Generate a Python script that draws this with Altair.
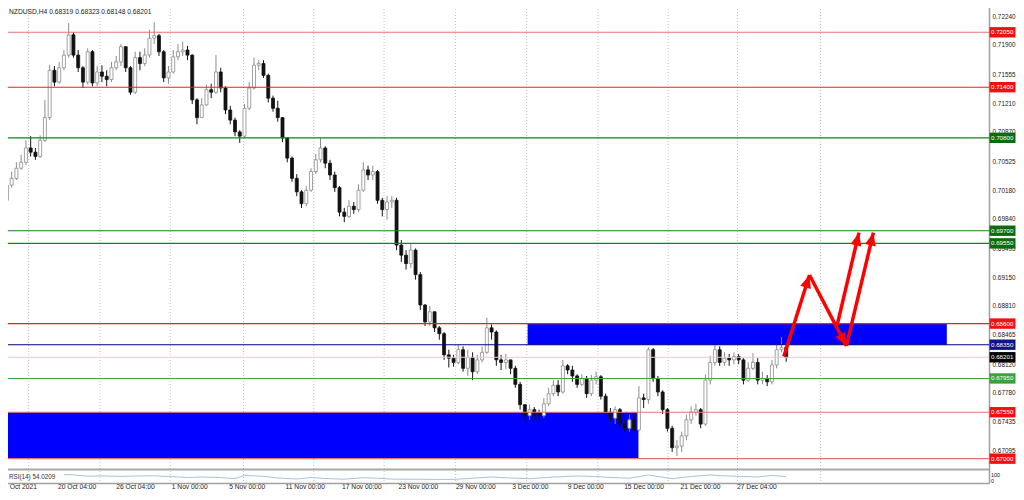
import json
import math
import altair as alt
import pandas as pd

# ------------------------------------------------------------------ data
symbol = "NZDUSD,H4"
first_open = 0.7006
close = [
    0.7024, 0.7032, 0.7044, 0.7051, 0.7068, 0.7063, 0.7058, 0.7077, 0.7104, 0.7160,
    0.7146, 0.7163, 0.7178, 0.7202, 0.7178, 0.7163, 0.7146, 0.7182, 0.7145, 0.7158,
    0.7153, 0.7149, 0.7163, 0.7170, 0.7188, 0.7163, 0.7134, 0.7175, 0.7168, 0.7178,
    0.7198, 0.7201, 0.7182, 0.7151, 0.7158, 0.7176, 0.7182, 0.7184, 0.7178, 0.7125,
    0.7104, 0.7119, 0.7137, 0.7134, 0.7158, 0.7139, 0.7113, 0.7101, 0.7087, 0.7082,
    0.7115, 0.7139, 0.7166, 0.7168, 0.7154, 0.7127, 0.7115, 0.7104, 0.7080, 0.7056,
    0.7032, 0.7016, 0.7002, 0.7018, 0.7040, 0.7054, 0.7068, 0.7050, 0.7036, 0.7021,
    0.6992, 0.6987, 0.6999, 0.6995, 0.7018, 0.7042, 0.7036, 0.7040, 0.7006, 0.6995,
    0.7004, 0.7006, 0.6953, 0.6941, 0.6931, 0.6947, 0.6918, 0.6882, 0.6862, 0.6874,
    0.6855, 0.6848, 0.6823, 0.6819, 0.6814, 0.6829, 0.6807, 0.6820, 0.6803, 0.6817,
    0.6826, 0.6855, 0.6850, 0.6817, 0.6814, 0.6817, 0.6807, 0.6788, 0.6764, 0.6751,
    0.6758, 0.6753, 0.6751, 0.6765, 0.6777, 0.6787, 0.6779, 0.6810, 0.6805, 0.6798,
    0.6788, 0.6795, 0.6777, 0.6793, 0.6797, 0.6774, 0.6755, 0.6748, 0.6758, 0.6741,
    0.6736, 0.6746, 0.6734, 0.6772, 0.6770, 0.6829, 0.6795, 0.6779, 0.6758, 0.6736,
    0.6713, 0.6715, 0.6727, 0.6746, 0.6755, 0.6758, 0.6741, 0.6793, 0.6814, 0.6829,
    0.6814, 0.6819, 0.6817, 0.6821, 0.6817, 0.6793, 0.6807, 0.6814, 0.6793, 0.6795,
    0.6791, 0.6811, 0.6829, 0.68319, 0.68201,
]
high = [
    0.7030, 0.7040, 0.7051, 0.7060, 0.7077, 0.7082, 0.7068, 0.7083, 0.7125, 0.7166,
    0.7165, 0.7170, 0.7184, 0.7216, 0.7205, 0.7184, 0.7165, 0.7186, 0.7184, 0.7165,
    0.7166, 0.7160, 0.7170, 0.7177, 0.7191, 0.7186, 0.7165, 0.7182, 0.7182, 0.7186,
    0.7208, 0.7217, 0.7203, 0.7184, 0.7165, 0.7184, 0.7191, 0.7194, 0.7189, 0.7179,
    0.7127, 0.7127, 0.7143, 0.7144, 0.7178, 0.7163, 0.7141, 0.7118, 0.7104, 0.7089,
    0.7120, 0.7146, 0.7175, 0.7172, 0.7172, 0.7156, 0.7130, 0.7124, 0.7104, 0.7080,
    0.7058, 0.7037, 0.7018, 0.7023, 0.7044, 0.7061, 0.7080, 0.7070, 0.7054, 0.7040,
    0.7023, 0.6997, 0.7006, 0.7004, 0.7025, 0.7051, 0.7047, 0.7047, 0.7042, 0.7009,
    0.7011, 0.7011, 0.7009, 0.6959, 0.6947, 0.6955, 0.6949, 0.6921, 0.6883, 0.6881,
    0.6874, 0.6857, 0.6850, 0.6829, 0.6823, 0.6835, 0.6833, 0.6829, 0.6826, 0.6823,
    0.6833, 0.6867, 0.6859, 0.6852, 0.6823, 0.6824, 0.6817, 0.6810, 0.6791, 0.6763,
    0.6764, 0.6761, 0.6758, 0.6772, 0.6784, 0.6793, 0.6793, 0.6817, 0.6812, 0.6810,
    0.6800, 0.6800, 0.6798, 0.6799, 0.6803, 0.6799, 0.6777, 0.6760, 0.6762, 0.6760,
    0.6746, 0.6752, 0.6755, 0.6786, 0.6777, 0.6832, 0.6831, 0.6798, 0.6781, 0.6760,
    0.6739, 0.6722, 0.6732, 0.6752, 0.6762, 0.6765, 0.6760, 0.6800, 0.6822, 0.6835,
    0.6833, 0.6826, 0.6824, 0.6826, 0.6824, 0.6819, 0.6814, 0.6825, 0.6819, 0.6803,
    0.6799, 0.6817, 0.6835, 0.6844, 0.68323,
]
low = [
    0.6981, 0.7021, 0.7030, 0.7042, 0.7048, 0.7058, 0.7054, 0.7056, 0.7075, 0.7101,
    0.7141, 0.7144, 0.7160, 0.7175, 0.7175, 0.7158, 0.7139, 0.7143, 0.7141, 0.7141,
    0.7146, 0.7141, 0.7146, 0.7160, 0.7165, 0.7158, 0.7131, 0.7132, 0.7160, 0.7165,
    0.7175, 0.7191, 0.7177, 0.7146, 0.7144, 0.7156, 0.7172, 0.7177, 0.7172, 0.7120,
    0.7096, 0.7111, 0.7118, 0.7127, 0.7132, 0.7134, 0.7108, 0.7096, 0.7082, 0.7074,
    0.7080, 0.7113, 0.7137, 0.7160, 0.7151, 0.7122, 0.7111, 0.7099, 0.7075, 0.7051,
    0.7028, 0.7011, 0.6997, 0.6999, 0.7016, 0.7037, 0.7051, 0.7044, 0.7030, 0.7016,
    0.6987, 0.6980, 0.6985, 0.6990, 0.6992, 0.7016, 0.7030, 0.7030, 0.7002, 0.6987,
    0.6983, 0.6997, 0.6947, 0.6933, 0.6924, 0.6926, 0.6912, 0.6876, 0.6857, 0.6857,
    0.6850, 0.6841, 0.6817, 0.6808, 0.6809, 0.6812, 0.6803, 0.6798, 0.6793, 0.6800,
    0.6814, 0.6824, 0.6841, 0.6810, 0.6805, 0.6806, 0.6800, 0.6784, 0.6758, 0.6745,
    0.6746, 0.6746, 0.6744, 0.6748, 0.6762, 0.6774, 0.6774, 0.6777, 0.6800, 0.6791,
    0.6784, 0.6786, 0.6772, 0.6774, 0.6788, 0.6770, 0.6750, 0.6744, 0.6741, 0.6736,
    0.6732, 0.6732, 0.6732, 0.6732, 0.6760, 0.6765, 0.6791, 0.6774, 0.6753, 0.6732,
    0.6708, 0.6703, 0.6708, 0.6722, 0.6741, 0.6751, 0.6736, 0.6739, 0.6788, 0.6810,
    0.6810, 0.6810, 0.6810, 0.6812, 0.6812, 0.6788, 0.6791, 0.6805, 0.6788, 0.6788,
    0.6786, 0.6788, 0.6807, 0.6826, 0.68148,
]

time_labels = ["14 Oct 2021", "20 Oct 04:00", "26 Oct 04:00", "1 Nov 00:00", "5 Nov 00:00",
               "11 Nov 00:00", "17 Nov 00:00", "23 Nov 00:00", "29 Nov 00:00", "3 Dec 00:00",
               "9 Dec 00:00", "15 Dec 00:00", "21 Dec 00:00", "27 Dec 04:00"]
time_label_bars = [-1.46, 10.63, 22.92, 34.58, 46.67, 58.54, 70.42, 82.29, 94.38, 106.25,
                   117.92, 129.79, 141.67, 153.54]
grid_bars = [4.58, 19.58, 34.38, 49.79, 64.58, 79.38, 94.38, 109.38, 124.38, 139.17, 153.75, 171.25]

price_ticks = [0.72240, 0.71900, 0.71555, 0.71210, 0.70870, 0.70525, 0.70180, 0.69840,
               0.69495, 0.69150, 0.68810, 0.68465, 0.68120, 0.67780, 0.67435, 0.67095]

level_prices = [0.72050, 0.71400, 0.70800, 0.69700, 0.69550, 0.68600, 0.68350, 0.68201,
                0.67950, 0.67550, 0.67000]
level_kinds = ["r", "R", "G", "G", "G", "R", "N", "B", "g", "r", "r"]

zone_start = [-2.1, 109.58]
zone_end = [132.9, 197.8]
zone_low = [0.67000, 0.68350]
zone_high = [0.67550, 0.68600]

arrow_from_bar = [163.5, 168.9, 174.73, 176.67]
arrow_from_price = [0.68210, 0.69176, 0.68583, 0.68335]
arrow_to_bar = [168.9, 176.67, 179.31, 182.35]
arrow_to_price = [0.69176, 0.68335, 0.69677, 0.69677]

rsi_bars = [12, 14, 17, 20, 24, 27, 31, 34, 38, 41, 45, 48, 50, 54, 57, 61, 64, 68, 71, 75,
            78, 81, 84, 88, 94, 98, 102, 106, 110, 115, 120, 124, 127, 131, 135, 140, 144,
            148, 151, 155, 158, 161, 164]
rsi_values = [74, 71, 58, 61, 56, 60, 62, 55, 45, 50, 44, 34, 66, 57, 40, 30, 44, 33, 28, 43,
              38, 29, 28, 27, 26, 38, 50, 40, 33, 50, 60, 55, 45, 38, 70, 33, 55, 70, 62, 55,
              50, 66, 54.0209]
rsi_levels = [100, 0]

# ------------------------------------------------------------------ style / layout
FONT = "Liberation Sans"
FS = 6.7
TXT = "#222222"
line_colors = {"R": "#ff1a1a", "r": "#e87272", "G": "#138613", "g": "#3aa83a",
               "N": "#000080", "B": "#e2c9c9"}
box_colors = {"R": "#f01010", "r": "#f01010", "G": "#0c6b0c", "g": "#3aa23a",
              "N": "#12128a", "B": "#000000"}
candle_fill = {"up": "#ffffff", "down": "#111111"}
candle_stroke = {"up": "#8c8c8c", "down": "#151515"}

BAR_PX, BAR0 = 4.8, 2.0          # pixel spacing of bars, x of bar 0
LEFT, RIGHT = -8.0, 989.0         # view edges in page pixels
PRICE_PX, ANCHOR_P, ANCHOR_Y = 8443.0, 0.7205, 32.3
H = 483                           # bottom of the view (page pixels)
RSI0_Y, RSI_PX = 482.0, 0.1       # RSI panel between 472 and 482
W = RIGHT - LEFT


def vx(page_x):
    return page_x - LEFT


x_domain = [(LEFT - BAR0) / BAR_PX, (RIGHT - BAR0) / BAR_PX]
price_domain = [ANCHOR_P - (H - ANCHOR_Y) / PRICE_PX, ANCHOR_P + ANCHOR_Y / PRICE_PX]
rsi_domain = [(RSI0_Y - H) / RSI_PX, RSI0_Y / RSI_PX]

xs = alt.Scale(domain=x_domain, nice=False, zero=False)
ys = alt.Scale(domain=price_domain, nice=False, zero=False)
rs = alt.Scale(domain=rsi_domain, nice=False, zero=False)

label_expr = f"{json.dumps(time_labels)}[indexof({json.dumps(time_label_bars)}, datum.value)]"
x_axis = alt.Axis(values=time_label_bars, labelExpr=label_expr, orient="bottom", ticks=False,
                  grid=False, domainColor="#a0a0a0", domainWidth=1.5, labelAlign="left",
                  labelBaseline="top", labelPadding=0.5, labelFlush=False, labelOverlap=False,
                  labelFont=FONT, labelFontSize=FS, labelColor=TXT, title=None)
y_axis = alt.Axis(values=price_ticks, format=".5f", orient="right", ticks=False, grid=False,
                  domainColor="#a0a0a0", domainWidth=1.5, labelAlign="left",
                  labelBaseline="middle", labelPadding=3, labelFlush=False,
                  labelOverlap=False, labelFont=FONT, labelFontSize=6.4, labelColor=TXT,
                  title=None)


def X(f):
    return alt.X(f, type="quantitative", scale=xs, axis=x_axis)


def Y(f):
    return alt.Y(f, type="quantitative", scale=ys, axis=y_axis)


# ------------------------------------------------------------------ frames
opens = [first_open] + close[:-1]
candles = pd.DataFrame({"bar": range(len(close)), "open": opens, "close": close,
                        "high": high, "low": low})
candles["dir"] = ["up" if c >= o else "down" for o, c in zip(opens, close)]
candles["fill"] = candles["dir"].map(candle_fill)
candles["stroke"] = candles["dir"].map(candle_stroke)

levels = pd.DataFrame({"price": level_prices, "kind": level_kinds})
levels["line"] = levels["kind"].map(line_colors)
levels["box"] = levels["kind"].map(box_colors)

zones = pd.DataFrame({"start": zone_start, "end": zone_end, "low": zone_low, "high": zone_high})
grid = pd.DataFrame({"bar": grid_bars})

pts, heads = [], []
for k, (b0, p0, b1, p1) in enumerate(zip(arrow_from_bar, arrow_from_price,
                                         arrow_to_bar, arrow_to_price)):
    pts += [{"arrow": k, "seq": 0, "bar": b0, "price": p0},
            {"arrow": k, "seq": 1, "bar": b1, "price": p1}]
    dx = (b1 - b0) * BAR_PX
    dy = -(p1 - p0) * PRICE_PX
    ang = math.degrees(math.atan2(dx, -dy)) % 360
    heads.append({"bar": b1, "price": p1, "angle": ang})
arrow_pts = pd.DataFrame(pts)
arrow_heads = pd.DataFrame(heads)

rsi = pd.DataFrame({"bar": rsi_bars, "rsi": rsi_values})

HEAD = "M0,0L0.55,1.3L-0.55,1.3Z"
BOX = "M-1,-0.4L1,-0.4L1,0.4L-1,0.4Z"

# ------------------------------------------------------------------ layers
grid_l = alt.Chart(grid).mark_rule(color="#c2c2c2", strokeDash=[1, 2], strokeWidth=1).encode(
    x=X("bar"))
zones_l = alt.Chart(zones).mark_rect(color="#0000ff").encode(
    x=X("start"), x2="end", y=Y("low"), y2="high")
wicks_l = alt.Chart(candles).mark_rule(strokeWidth=1).encode(
    x=X("bar"), y=Y("low"), y2="high", stroke=alt.Stroke("stroke:N", scale=None))
bodies_l = alt.Chart(candles).mark_bar(width=3, strokeWidth=0.8).encode(
    x=X("bar"), y=Y("open"), y2="close",
    fill=alt.Fill("fill:N", scale=None), stroke=alt.Stroke("stroke:N", scale=None))
levels_l = alt.Chart(levels).mark_rule(strokeWidth=1.1).encode(
    y=Y("price"), stroke=alt.Stroke("line:N", scale=None))
arrows_l = alt.Chart(arrow_pts).mark_line(strokeWidth=3.5, color="#ff0000", strokeCap="butt").encode(
    x=X("bar"), y=Y("price"), detail="arrow:N", order=alt.Order("seq:Q"))
heads_l = alt.Chart(arrow_heads).mark_point(shape=HEAD, size=400, filled=True, color="#ff0000",
                                            opacity=1, strokeWidth=0).encode(
    x=X("bar"), y=Y("price"), angle=alt.Angle("angle:Q", scale=None))
boxes_l = alt.Chart(levels).mark_point(shape=BOX, size=676, filled=True, opacity=1,
                                       strokeWidth=0).encode(
    x=alt.value(vx(1002.5)), y=Y("price"), fill=alt.Fill("box:N", scale=None))
box_text_l = alt.Chart(levels).mark_text(align="left", baseline="middle", font=FONT, fontSize=6.2,
                                         color="white").encode(
    x=alt.value(vx(991)), y=Y("price"), text=alt.Text("price:Q", format=".5f"))

price_layer = alt.layer(grid_l, zones_l, wicks_l, bodies_l, levels_l, arrows_l, heads_l,
                        boxes_l, box_text_l)

rsi_line_l = alt.Chart(rsi).mark_line(color="#a9c3d4", strokeWidth=1).encode(
    x=X("bar"), y=alt.Y("rsi:Q", scale=rs, axis=None))


def rsi_lbl(vals, dy):
    d = pd.DataFrame({"level": vals, "label": [str(v) for v in vals]})
    return alt.Chart(d).mark_text(align="left", baseline="middle", font=FONT, fontSize=5.5,
                                  color=TXT, dy=dy).encode(
        x=alt.value(vx(991)), y=alt.Y("level:Q", scale=rs, axis=None), text="label:N")


rsi_layer = alt.layer(rsi_line_l,
                      rsi_lbl([v for v in rsi_levels if v == 100], 2.5),
                      rsi_lbl([v for v in rsi_levels if v == 0], -1.5))

sep_l = alt.Chart(pd.DataFrame({"k": [0]})).mark_rule(color="#a8a8a8", strokeWidth=2).encode(
    x=alt.value(0), x2=alt.value(W), y=alt.value(469.5))

last = len(close) - 1
header_text = (f"{symbol}  {opens[last]:.5f} {high[last]:.5f} {low[last]:.5f} {close[last]:.5f}")
header_l = alt.Chart(pd.DataFrame({"t": [header_text]})).mark_text(
    align="left", baseline="middle", font=FONT, fontSize=FS, color=TXT).encode(
    x=alt.value(vx(9)), y=alt.value(12), text="t:N")
rsi_title_l = alt.Chart(pd.DataFrame({"t": [f"RSI(14) {rsi_values[-1]:.4f}"]})).mark_text(
    align="left", baseline="middle", font=FONT, fontSize=6.3, color="#333333").encode(
    x=alt.value(vx(9)), y=alt.value(476.5), text="t:N")

chart = alt.layer(price_layer, rsi_layer, sep_l, header_l, rsi_title_l).resolve_scale(
    y="independent"
).properties(
    width=W, height=H,
    padding={"left": -16, "top": -8, "right": 27, "bottom": 9},
    autosize=alt.AutoSizeParams(type="none"),
    background="white",
).configure_view(stroke=None)

chart.save("out.html", embed_options={"renderer": "svg", "actions": False})
